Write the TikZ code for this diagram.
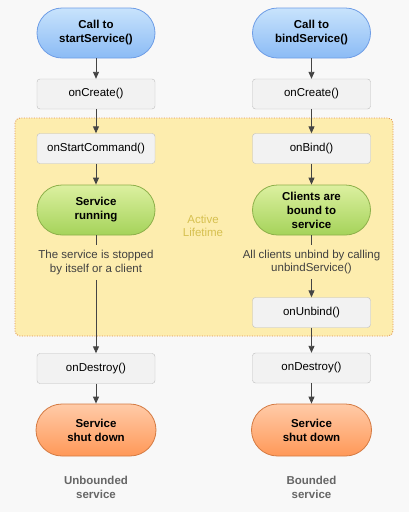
\documentclass[tikz,border=0pt]{standalone}
\usepackage{fontspec}
\setmainfont{Liberation Sans}
\usetikzlibrary{arrows.meta}
\definecolor{pagebg}{HTML}{F8F8F8}
\definecolor{boxfill}{HTML}{F2F2F2}
\definecolor{boxline}{HTML}{BDBDBD}
\definecolor{bluetop}{HTML}{C8E3FC}
\definecolor{bluebot}{HTML}{8BBBF5}
\definecolor{blueline}{HTML}{6E9DE6}
\definecolor{greentop}{HTML}{DCF0A0}
\definecolor{greenbot}{HTML}{A5D35A}
\definecolor{greenline}{HTML}{8DB04A}
\definecolor{orangetop}{HTML}{FFCBA8}
\definecolor{orangebot}{HTML}{FF9858}
\definecolor{orangeline}{HTML}{D47A42}
\definecolor{lifefill}{HTML}{FDEDAE}
\definecolor{lifeline}{HTML}{E0904C}
\definecolor{lifetext}{HTML}{D6C050}
\definecolor{arrowc}{HTML}{444444}

\begin{document}
\begin{tikzpicture}[x=1pt, y=-1pt, font=\fontsize{11.5}{13.5}\selectfont,
box/.style={draw=boxline, fill=boxfill, rounded corners=3pt, minimum width=118pt, minimum height=30pt},
pill/.style={rounded corners=25pt, minimum width=118pt, minimum height=50pt, align=center, line width=0.8pt, font=\fontsize{11.5}{14}\selectfont\bfseries},
callpill/.style={pill, draw=blueline, top color=bluetop, bottom color=bluebot},
runpill/.style={pill, draw=greenline, top color=greentop, bottom color=greenbot},
endpill/.style={pill, draw=orangeline, top color=orangetop, bottom color=orangebot, minimum width=120pt, minimum height=52pt, rounded corners=26pt},
note/.style={align=center, inner xsep=2pt, inner ysep=5pt, text=black!75},
kind/.style={align=center, text=black!60, font=\fontsize{11.5}{13.5}\selectfont\bfseries},
flow/.style={draw=arrowc, line width=0.9pt, -{Triangle[length=7pt,width=6pt]}}]
\fill[pagebg] (0,0) rectangle (409,512);
\useasboundingbox (0,0) rectangle (409,512);
% active lifetime region
\draw[lifeline, fill=lifefill, line width=0.8pt, dash pattern=on 1pt off 1.5pt, rounded corners=5pt] (15,118) rectangle (393,336);
\node[lifetext, align=center] (life) at (203,226) {Active\\Lifetime};
% unbounded service
\node[callpill] (startcall) at (96,33) {Call to\\startService()};
\node[box] (createL) at (96,94) {onCreate()};
\node[box] (startcmd) at (96,148.5) {onStartCommand()};
\node[runpill] (running) at (96,210) {Service\\running};
\node[note] (stopnote) at (96,262.5) {The service is stopped\\by itself or a client};
\node[box] (destroyL) at (96,368.5) {onDestroy()};
\node[endpill] (shutL) at (96,430) {Service\\shut down};
\node[kind] (unbounded) at (96,487.5) {Unbounded\\service};
% bounded service
\node[callpill] (bindcall) at (311.5,33) {Call to\\bindService()};
\node[box] (createR) at (311.5,94) {onCreate()};
\node[box] (bind) at (311.5,148.5) {onBind()};
\node[runpill] (bound) at (311.5,210) {Clients are\\bound to\\service};
\node[note] (unbindnote) at (311.5,262) {All clients unbind by calling\\unbindService()};
\node[box] (unbind) at (311.5,312.5) {onUnbind()};
\node[box] (destroyR) at (311.5,368) {onDestroy()};
\node[endpill] (shutR) at (311.5,430) {Service\\shut down};
\node[kind] (bounded) at (311.5,487.5) {Bounded\\service};
% connectors
\draw[flow] (startcall) -- (createL);
\draw[flow] (createL) -- (startcmd);
\draw[flow] (startcmd) -- (running);
\draw[draw=arrowc, line width=0.9pt] (running) -- (stopnote);
\draw[flow] (stopnote) -- (destroyL);
\draw[flow] (destroyL) -- (shutL);
\draw[flow] (bindcall) -- (createR);
\draw[flow] (createR) -- (bind);
\draw[flow] (bind) -- (bound);
\draw[draw=arrowc, line width=0.9pt] (bound) -- (unbindnote);
\draw[flow] (unbindnote) -- (unbind);
\draw[flow] (unbind) -- (destroyR);
\draw[flow] (destroyR) -- (shutR);
\end{tikzpicture}
\end{document}
